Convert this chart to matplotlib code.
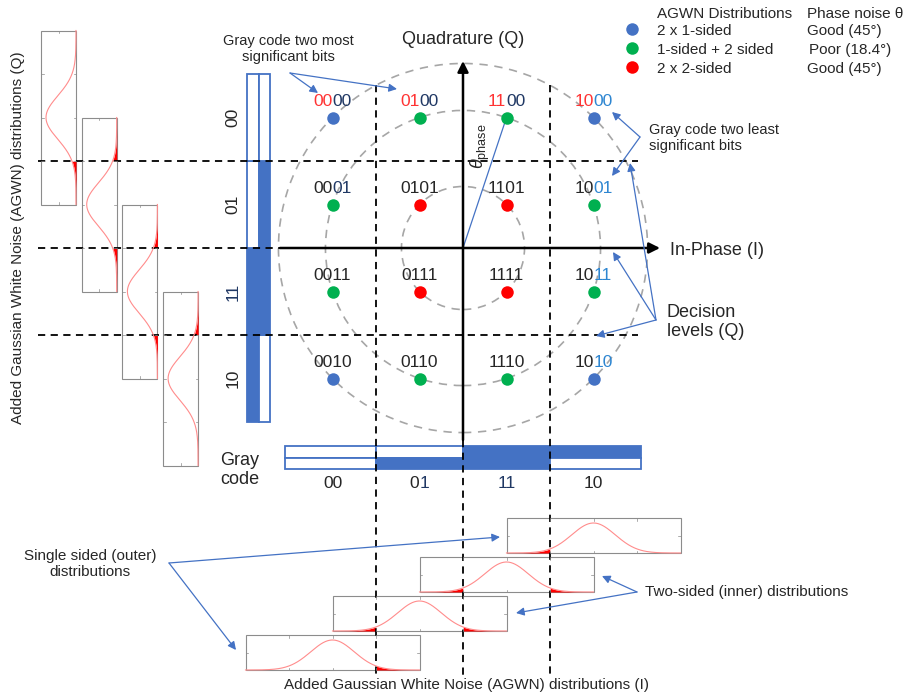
import numpy as np
import matplotlib.pyplot as plt
from matplotlib import font_manager, ft2font
from matplotlib.patches import Rectangle, Circle

plt.rcParams['font.family'] = ['Liberation Sans', 'DejaVu Sans']
plt.rcParams['mathtext.fontset'] = 'custom'
plt.rcParams['mathtext.rm'] = 'Liberation Sans'
plt.rcParams['mathtext.it'] = 'Liberation Sans:italic'

# 16-QAM levels, gray code per level, decision thresholds
levels = [-3, -1, 1, 3]
gray = ['00', '01', '11', '10']
decision = [-2, 0, 2]
radii = [np.sqrt(2), np.sqrt(10), np.sqrt(18)]
sigma = 0.5

# legend rows
legend_kind = ['2 x 1-sided', '1-sided + 2 sided', '2 x 2-sided']
legend_phase = ['Good (45°)', 'Poor (18.4°)', 'Good (45°)']

BLUE, GREEN, RED = '#4472C4', '#00B050', '#FF0000'
NAVY, LBLUE, TXT = '#203864', '#2E86D1', '#262626'
ARROW = '#4472C4'

# colour of the high / low bit pairs in the symbol labels
hi_color = {(-3, 3): '#FF3333', (-1, 3): '#FF3333', (1, 3): '#FF3333', (3, 3): '#FF3333'}
lo_color = {(-3, 3): NAVY, (-1, 3): NAVY, (1, 3): NAVY, (3, 3): LBLUE,
            (3, 1): LBLUE, (3, -1): LBLUE, (3, -3): LBLUE, (-3, 1): NAVY}

# pixel layout -> I/Q units
CX, CY, S = 463, 248, 43.5
W, H = 906, 694
DPI = 100


def px(x, y):
    return ((x - CX) / S, (CY - y) / S)


def pxx(x):
    return (x - CX) / S


def pxy(y):
    return (CY - y) / S


fig = plt.figure(figsize=(W / DPI, H / DPI), dpi=DPI)
ax = fig.add_axes([0, 0, 1, 1])
ax.set_xlim(pxx(0), pxx(W))
ax.set_ylim(pxy(H), pxy(0))
ax.axis('off')

_ft = ft2font.FT2Font(font_manager.findfont(font_manager.FontProperties(family='Liberation Sans')))


def advance(s, size):
    # pen advance of a string in pixels
    _ft.set_size(size, DPI)
    return sum(_ft.load_char(ord(c)).linearHoriAdvance for c in s) / 65536


def two_tone(x, y, s, c_hi, c_lo, size=12.5, va='center'):
    if c_hi == c_lo:
        ax.text(x, y, s, ha='center', va=va, color=c_lo, fontsize=size)
        return
    a, b = s[:len(s) // 2], s[len(s) // 2:]
    left = x - advance(s, size) / 2 / S
    ax.text(left, y, a, ha='left', va=va, color=c_hi, fontsize=size)
    ax.text(left + advance(a, size) / S, y, b, ha='left', va=va, color=c_lo, fontsize=size)


dash = dict(color='black', lw=1.3, ls=(0, (4, 3)))

# decision levels
for d in [-2, 2]:
    ax.plot([d, d], [pxy(85), pxy(675)], **dash)
    ax.plot([pxx(38), pxx(638)], [d, d], **dash)
ax.plot([0, 0], [pxy(440), pxy(675)], **dash)
ax.plot([pxx(38), pxx(280)], [0, 0], **dash)

# circles of constant amplitude
for r in radii:
    ax.add_patch(Circle((0, 0), r, fill=False, color='#A6A6A6', lw=1.2, ls=(0, (5, 4))))

# I/Q axes
ax.annotate('', xy=px(463, 61), xytext=px(463, 440),
            arrowprops=dict(arrowstyle='-|>', color='black', lw=1.8, mutation_scale=16,
                            shrinkA=0, shrinkB=0))
ax.annotate('', xy=px(660, 248), xytext=px(280, 248),
            arrowprops=dict(arrowstyle='-|>', color='black', lw=1.8, mutation_scale=16,
                            shrinkA=0, shrinkB=0))
ax.text(*px(463, 40), 'Quadrature (Q)', fontsize=13, ha='center', va='center', color=TXT)
ax.text(*px(670, 250), 'In-Phase (I)', fontsize=13, ha='left', va='center', color=TXT)

# phase angle line to symbol 1100
ax.plot([0, 1], [0, 3], color=ARROW, lw=0.9)
ax.text(*px(480, 146), r'$\theta_{\mathrm{phase}}$', rotation=90, fontsize=13, ha='center',
        va='center', color=TXT)

# constellation points + labels
for qi, q in enumerate(levels):
    for ii, i in enumerate(levels):
        if abs(i) == 3 and abs(q) == 3:
            c = BLUE
        elif abs(i) == 1 and abs(q) == 1:
            c = RED
        else:
            c = GREEN
        ax.plot(i, q, 'o', ms=9, color=c, mec='none', zorder=5)
        two_tone(i, q + 16 / S, gray[ii] + gray[3 - qi],
                 hi_color.get((i, q), TXT), lo_color.get((i, q), TXT))

# gray code bars (Q, left)
bw = 11.5 / S
x0 = pxx(247)
for qi, q in enumerate(levels):
    code = gray[3 - qi]
    for b in range(2):
        ax.add_patch(Rectangle((x0 + b * bw, q - 1), bw, 2, lw=1.3, ec=BLUE,
                               fc=BLUE if code[b] == '1' else 'white'))
    ax.text(pxx(233), q, code, rotation=90, fontsize=12.5, ha='center', va='center',
            color=NAVY if code == '11' else TXT)

# gray code bars (I, bottom)
bh = 11.5 / S
y0 = pxy(446)
for ii, i in enumerate(levels):
    code = gray[ii]
    xl = i - 1 - (0.1 if i == -3 else 0)
    wd = 2 + (0.1 if abs(i) == 3 else 0)
    for b in range(2):
        ax.add_patch(Rectangle((xl, y0 - (b + 1) * bh), wd, bh, lw=1.3, ec=BLUE,
                               fc=BLUE if code[b] == '1' else 'white'))
    two_tone(i, pxy(484), code, NAVY if code == '11' else TXT,
             NAVY if code in ('01', '11') else TXT)
ax.text(*px(240, 470), 'Gray\ncode', fontsize=13, ha='center', va='center', color=TXT,
        linespacing=1.2)

FRAME = '#8C8C8C'
CURVE = '#FF8C8C'
g = np.linspace(-2, 2, 600)
pdf = np.exp(-g ** 2 / (2 * sigma ** 2))

# AGWN distributions along Q (left, rotated)
for k, q in enumerate(levels[::-1]):
    right = pxx(76 + 40.7 * k)
    w = 35 / S
    ax.add_patch(Rectangle((right - w, q - 2), w, 4, fill=False, ec=FRAME, lw=0.8))
    y = q + g
    x = right - 30 / S * pdf
    ax.plot(x, y, color=CURVE, lw=0.8)
    if q > -3:
        m = y <= q - 1
        ax.fill_betweenx(y[m], x[m], right, color=RED, lw=0)
    if q < 3:
        m = y >= q + 1
        ax.fill_betweenx(y[m], x[m], right, color=RED, lw=0)
    t = 2.5 / S
    for yy in [q - 1, q, q + 1]:
        ax.plot([right - w, right - w + t], [yy, yy], color=FRAME, lw=0.5)
        ax.plot([right, right - t], [yy, yy], color=FRAME, lw=0.5)
    for yy in [q - 2, q + 2]:
        ax.plot([right - w / 2] * 2, [yy, yy + (t if yy < q else -t)], color=FRAME, lw=0.5)

# AGWN distributions along I (bottom)
for m_i, i in enumerate(levels[::-1]):
    bot = pxy(553 + 39 * m_i)
    h = 35 / S
    ax.add_patch(Rectangle((i - 2, bot), 4, h, fill=False, ec=FRAME, lw=0.8))
    x = i + g
    y = bot + 30 / S * pdf
    ax.plot(x, y, color=CURVE, lw=0.8)
    if i > -3:
        m = x <= i - 1
        ax.fill_between(x[m], bot, y[m], color=RED, lw=0)
    if i < 3:
        m = x >= i + 1
        ax.fill_between(x[m], bot, y[m], color=RED, lw=0)
    t = 2.5 / S
    for xx in [i - 1, i, i + 1]:
        ax.plot([xx, xx], [bot, bot + t], color=FRAME, lw=0.5)
        ax.plot([xx, xx], [bot + h, bot + h - t], color=FRAME, lw=0.5)
    for xx in [i - 2, i + 2]:
        ax.plot([xx, xx + (t if xx < i else -t)], [bot + h / 2] * 2, color=FRAME, lw=0.5)

ax.text(*px(18, 238), 'Added Gaussian White Noise (AGWN) distributions (Q)', rotation=90,
        fontsize=11, ha='center', va='center', color=TXT)
narrow = ['Liberation Sans Narrow', 'Liberation Sans']
ax.text(*px(466, 685), 'Added Gaussian White Noise (AGWN) distributions (I)', fontsize=11,
        family=narrow, ha='center', va='center', color=TXT)

# legend
ax.text(*px(657, 14), 'AGWN Distributions', fontsize=11, ha='left', va='center', color=TXT)
ax.text(*px(807, 14), 'Phase noise θ', fontsize=11, ha='left', va='center', color=TXT)
for r, (kind, ph, c) in enumerate(zip(legend_kind, legend_phase, [BLUE, GREEN, RED])):
    yy = [31, 50, 69][r]
    ax.plot(*px(632, yy - 2), 'o', ms=9, color=c, mec='none')
    ax.text(*px(657, yy), kind, fontsize=11, ha='left', va='center', color=TXT)
    ax.text(*px(807 + (2 if r == 1 else 0), yy), ph, fontsize=11, ha='left', va='center',
            color=TXT)

# callouts
arr = dict(arrowstyle='-|>', color=ARROW, lw=0.9, mutation_scale=12, shrinkA=0, shrinkB=0)


def callout(src, targets):
    for tgt in targets:
        ax.annotate('', xy=px(*tgt), xytext=px(*src), arrowprops=arr)


ax.text(*px(288, 49), 'Gray code two most\nsignificant bits', fontsize=10.5, ha='center',
        va='center', color=TXT, linespacing=1.15)
callout((290, 73), [(318, 93), (397, 89)])

ax.text(*px(649, 138), 'Gray code two least\nsignificant bits', fontsize=10.5, ha='left',
        va='center', color=TXT, linespacing=1.15)
callout((640, 137), [(612, 112), (612, 176)])

ax.text(*px(667, 322), 'Decision\nlevels (Q)', fontsize=13, ha='left', va='center',
        color=TXT, linespacing=1.2)
callout((656, 320), [(630, 163), (613, 252), (596, 336)])

ax.text(*px(90, 564), 'Single sided (outer)\ndistributions', fontsize=11, family=narrow,
        ha='center', va='center', color=TXT, linespacing=1.2)
callout((169, 563), [(500, 537), (236, 650)])

ax.text(*px(645, 592), 'Two-sided (inner) distributions', fontsize=11, family=narrow,
        ha='left', va='center', color=TXT)
callout((637, 592), [(602, 576), (516, 613)])

fig.savefig('out.png', dpi=DPI)
